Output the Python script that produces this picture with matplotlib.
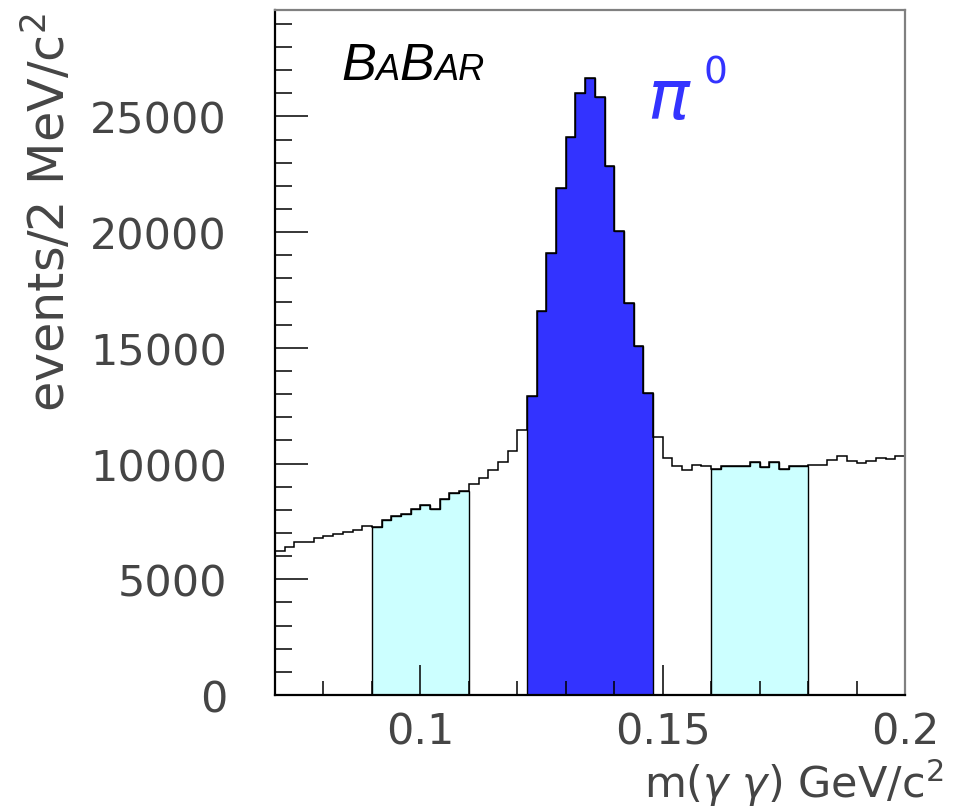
import numpy as np
import matplotlib
matplotlib.use("Agg")
import matplotlib.pyplot as plt
from matplotlib.ticker import FixedLocator, MultipleLocator
from matplotlib.offsetbox import HPacker, TextArea, AnnotationBbox

# 2 MeV bins from 0.070 to 0.200 GeV/c^2
BIN_LO = 0.070
BIN_W = 0.002
counts_left = [6230, 6400, 6620, 6620, 6770, 6880, 6950, 7050, 7150, 7310,
               7270, 7570, 7740, 7820, 8020, 8200, 8020, 8450, 8720, 8820,
               9120, 9370, 9730, 10050, 10540, 11440]
counts_peak = [12910, 16600, 19120, 21920, 24110, 26020, 26660, 25850,
               22840, 20050, 16960, 15080, 13030]
counts_right = [11170, 10260, 9880, 9730, 9950, 9900, 9770, 9890, 9890, 9890,
                10070, 9860, 10070, 9770, 9890, 9890, 9930, 9960, 10150, 10330,
                10130, 10030, 10100, 10250, 10180, 10310]
signal_range = (0.122, 0.148)
sideband_ranges = [(0.090, 0.110), (0.160, 0.180)]

counts = np.array(counts_left + counts_peak + counts_right, dtype=float)
edges = BIN_LO + BIN_W * np.arange(len(counts) + 1)

BLUE = "#3333ff"
CYAN = "#ccffff"
TXT = "#454545"

fig = plt.figure(figsize=(9.56, 8.12), dpi=100)
ax = fig.add_axes([275 / 956, 1 - 696 / 812, 630 / 956, 685 / 812])


def region(lo, hi):
    sel = (edges[:-1] >= lo - 1e-9) & (edges[1:] <= hi + 1e-9)
    idx = np.where(sel)[0]
    return counts[idx], edges[idx[0]:idx[-1] + 2]


for lo, hi in sideband_ranges:
    v, e = region(lo, hi)
    ax.stairs(v, e, fill=True, facecolor=CYAN, edgecolor="black",
              linewidth=1.0, zorder=1)
v, e = region(*signal_range)
ax.stairs(v, e, fill=True, facecolor=BLUE, edgecolor="black",
          linewidth=1.0, zorder=1)
ax.stairs(counts, edges, baseline=None, color="black", linewidth=1.1,
          zorder=2)

ax.set_xlim(0.07, 0.2)
ax.set_ylim(0, 29600)

ax.xaxis.set_major_locator(FixedLocator([0.1, 0.15, 0.2]))
ax.xaxis.set_minor_locator(MultipleLocator(0.01))
ax.set_xticklabels(["0.1", "0.15", "0.2"])
ax.yaxis.set_major_locator(MultipleLocator(5000))
ax.yaxis.set_minor_locator(MultipleLocator(1000))

ax.tick_params(axis="both", which="both", direction="in", color="black",
               width=1.1, top=False, right=False)
ax.tick_params(axis="x", which="major", length=21.5, pad=11,
               labelsize=31, labelcolor=TXT)
ax.tick_params(axis="x", which="minor", length=10)
ax.tick_params(axis="y", which="major", length=24, pad=34.5,
               labelsize=31, labelcolor=TXT)
ax.tick_params(axis="y", which="minor", length=12)

for side in ["left", "bottom"]:
    ax.spines[side].set_linewidth(1.6)
    ax.spines[side].set_color("black")
for side in ["top", "right"]:
    ax.spines[side].set_linewidth(1.6)
    ax.spines[side].set_color("#808080")

fig.text(48 / 956, 1 - 13 / 812, r"events/2 MeV/c$^2$", rotation=90,
         ha="center", va="top", fontsize=35.5, color=TXT)
fig.text(944 / 956, 1 - 798 / 812, r"m($\gamma$ $\gamma$) GeV/c$^2$",
         ha="right", va="baseline", fontsize=31, color=TXT)

# BaBar logo with small caps
big = dict(size=37.5, style="italic", family="Liberation Sans", color="black")
small = dict(size=26, style="italic", family="Liberation Sans", color="black")
logo = HPacker(children=[TextArea("B", textprops=big),
                         TextArea("A", textprops=small),
                         TextArea("B", textprops=big),
                         TextArea("AR", textprops=small)],
               align="baseline", pad=0, sep=0)
ab = AnnotationBbox(logo, (341 / 956, 1 - 91 / 812),
                    xycoords="figure fraction", box_alignment=(0, 0),
                    frameon=False, pad=0)
fig.add_artist(ab)

fig.text(647 / 956, 1 - 119 / 812, r"$\pi$", fontsize=50, color=BLUE,
         ha="left", va="baseline")
fig.text(704 / 956, 1 - 83 / 812, "0", fontsize=27, color=BLUE,
         ha="left", va="baseline")

fig.savefig("out.png", dpi=100)
